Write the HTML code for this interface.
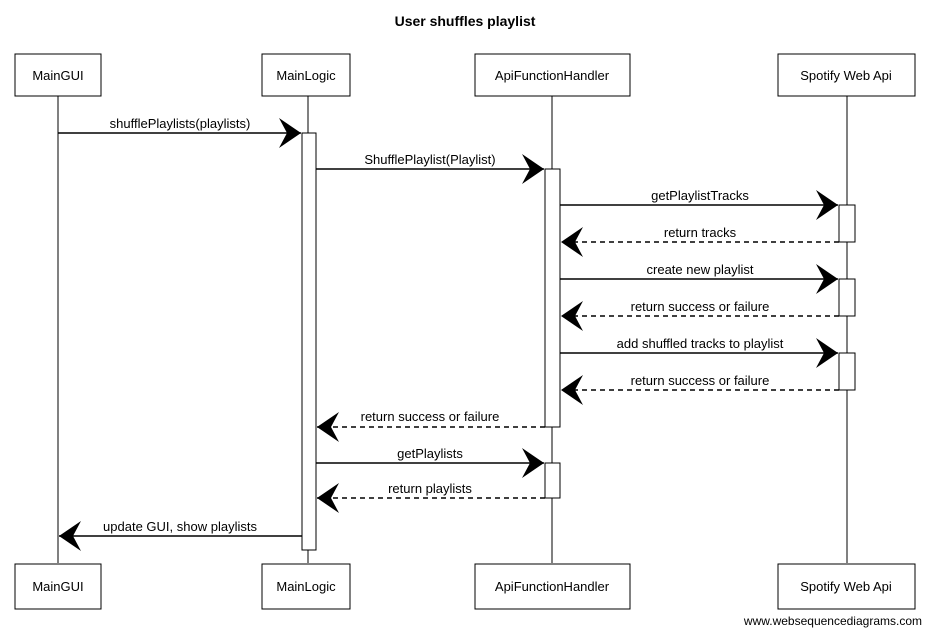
<!DOCTYPE html>
<html><head><meta charset="utf-8"><style>
body{margin:0;background:#fff;width:931px;height:634px;overflow:hidden}
svg{display:block}
text{font-family:"Liberation Sans",sans-serif;font-size:13px;fill:#000}
</style></head><body>
<svg width="931" height="634" viewBox="0 0 931 634" xmlns="http://www.w3.org/2000/svg">
<defs>
<marker id="a" viewBox="0 0 24 30" refX="22" refY="15" markerWidth="24" markerHeight="30" markerUnits="userSpaceOnUse" orient="auto">
<path d="M0,0 L22,15 L0,30 L8,15 Z" fill="#000"/>
</marker>
</defs>
<text x="465" y="26" text-anchor="middle" style="font-weight:bold;font-size:14px">User shuffles playlist</text>
<g stroke="#000" stroke-width="1" fill="#fff">
<!-- lifelines -->
<line x1="58" y1="96" x2="58" y2="563"/>
<line x1="308" y1="96" x2="308" y2="563"/>
<line x1="552" y1="96" x2="552" y2="563"/>
<line x1="847" y1="96" x2="847" y2="563"/>
<!-- top boxes -->
<rect x="15" y="54" width="86" height="42"/>
<rect x="262" y="54" width="88" height="42"/>
<rect x="475" y="54" width="155" height="42"/>
<rect x="778" y="54" width="137" height="42"/>
<!-- bottom boxes -->
<rect x="15" y="564" width="86" height="45"/>
<rect x="262" y="564" width="88" height="45"/>
<rect x="475" y="564" width="155" height="45"/>
<rect x="778" y="564" width="137" height="45"/>
<!-- activations -->
<rect x="302" y="133" width="14" height="417"/>
<rect x="545" y="169" width="15" height="258"/>
<rect x="545" y="463" width="15" height="35"/>
<rect x="839" y="205" width="16" height="37"/>
<rect x="839" y="279" width="16" height="37"/>
<rect x="839" y="353" width="16" height="37"/>
</g>
<g font-size="12">
<text x="58" y="80" text-anchor="middle">MainGUI</text>
<text x="306" y="80" text-anchor="middle">MainLogic</text>
<text x="552" y="80" text-anchor="middle">ApiFunctionHandler</text>
<text x="846" y="80" text-anchor="middle">Spotify Web Api</text>
<text x="58" y="591" text-anchor="middle">MainGUI</text>
<text x="306" y="591" text-anchor="middle">MainLogic</text>
<text x="552" y="591" text-anchor="middle">ApiFunctionHandler</text>
<text x="846" y="591" text-anchor="middle">Spotify Web Api</text>
</g>
<g stroke="#000" stroke-width="1.4" fill="none" marker-end="url(#a)">
<line x1="58" y1="133" x2="301" y2="133"/>
<line x1="316" y1="169" x2="544" y2="169"/>
<line x1="560" y1="205" x2="838" y2="205"/>
<line x1="839" y1="242" x2="561" y2="242" stroke-dasharray="5,4"/>
<line x1="560" y1="279" x2="838" y2="279"/>
<line x1="839" y1="316" x2="561" y2="316" stroke-dasharray="5,4"/>
<line x1="560" y1="353" x2="838" y2="353"/>
<line x1="839" y1="390" x2="561" y2="390" stroke-dasharray="5,4"/>
<line x1="545" y1="427" x2="317" y2="427" stroke-dasharray="5,4"/>
<line x1="316" y1="463" x2="544" y2="463"/>
<line x1="545" y1="498" x2="317" y2="498" stroke-dasharray="5,4"/>
<line x1="302" y1="536" x2="59" y2="536"/>
</g>
<g text-anchor="middle">
<text x="180" y="128">shufflePlaylists(playlists)</text>
<text x="430" y="164">ShufflePlaylist(Playlist)</text>
<text x="700" y="200">getPlaylistTracks</text>
<text x="700" y="237">return tracks</text>
<text x="700" y="274">create new playlist</text>
<text x="700" y="311">return success or failure</text>
<text x="700" y="348">add shuffled tracks to playlist</text>
<text x="700" y="385">return success or failure</text>
<text x="430" y="421">return success or failure</text>
<text x="430" y="458">getPlaylists</text>
<text x="430" y="493">return playlists</text>
<text x="180" y="531">update GUI, show playlists</text>
</g>
<text x="922" y="625" text-anchor="end" style="font-size:12px">www.websequencediagrams.com</text>
</svg>
</body></html>
